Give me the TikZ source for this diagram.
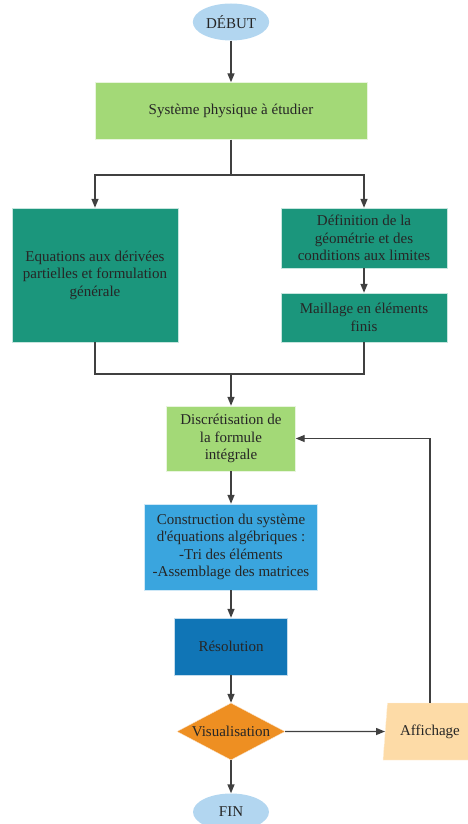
\documentclass[tikz,border=0pt]{standalone}
\usepackage{fontspec}
\setmainfont{Liberation Serif}
\usetikzlibrary{shapes.geometric,arrows.meta}

\begin{document}
\begin{tikzpicture}[x=1pt,y=-1pt,
        every node/.style={font=\fontsize{15}{17.5}\selectfont,text=black!85,align=center,inner sep=2pt},
        boite/.style={rectangle,draw=white!75!#1,fill=#1},
        terme/.style={ellipse,fill=bleuclair,minimum width=76pt,minimum height=37pt},
        fleche/.style={-{Triangle[width=7pt,length=9pt]},line width=1.4pt,draw=black!75},
        ligne/.style={line width=1.4pt,draw=black!75}]
        %couleurs
        \definecolor{bleuclair}{RGB}{178,214,240}
        \definecolor{vertclair}{RGB}{163,217,119}
        \definecolor{sarcelle}{RGB}{27,150,124}
        \definecolor{bleu}{RGB}{58,165,222}
        \definecolor{bleufonce}{RGB}{16,117,182}
        \definecolor{orange}{RGB}{238,143,34}
        \definecolor{peche}{RGB}{253,219,167}

        \useasboundingbox (0,0) rectangle (468,824);

        % Noeuds
        \node[terme] (debut) at (231,22) {DÉBUT};
        \node[boite=vertclair,minimum width=272pt,minimum height=57pt] (sys) at (231,111) {Système physique à étudier};
        \node[boite=sarcelle,minimum width=166pt,minimum height=134pt] (eq) at (95,275) {Equations aux dérivées\\partielles et formulation\\générale};
        \node[boite=sarcelle,minimum width=166pt,minimum height=60pt] (geo) at (364,238) {Définition de la\\géométrie et des\\conditions aux limites};
        \node[boite=sarcelle,minimum width=166pt,minimum height=49pt] (mail) at (364,317.5) {Maillage en éléments\\finis};
        \node[boite=vertclair,minimum width=129pt,minimum height=65pt] (disc) at (231,438.5) {Discrétisation de\\la formule\\intégrale};
        \node[boite=bleu,minimum width=173pt,minimum height=86pt] (cons) at (231,547) {Construction du système\\d\textquotesingle équations algébriques :\\-Tri des éléments\\-Assemblage des matrices};
        \node[boite=bleufonce,minimum width=113pt,minimum height=57pt] (reso) at (231,646.5) {Résolution};
        \node[diamond,aspect=1.9,inner sep=0pt,fill=orange,draw=white!75!orange,minimum width=108pt,minimum height=57pt] (visu) at (231,731.5) {Visualisation};
        \node[terme] (fin) at (231,812) {FIN};
        \node[trapezium,trapezium left angle=76,trapezium right angle=104,trapezium stretches body=true,
            fill=peche,draw=white!60!peche,minimum width=94pt,minimum height=57pt] (aff) at (430,731.5) {Affichage};

        % Points de jonction
        \coordinate (sep) at (231,175);
        \coordinate (jonc) at (231,374);

        % Connecteurs
        \draw[fleche] (debut) -- (sys);
        \draw[ligne] (sys) -- (sep);
        \draw[fleche] (sep) -| (eq.north);
        \draw[fleche] (sep) -| (geo.north);
        \draw[fleche] (geo) -- (mail);
        \draw[ligne] (eq.south) |- (jonc) -| (mail.south);
        \draw[fleche] (jonc) -- (disc);
        \draw[fleche] (disc) -- (cons);
        \draw[fleche] (cons) -- (reso);
        \draw[fleche] (reso) -- (visu);
        \draw[fleche] (visu) -- (fin);
        \draw[fleche] (visu) -- (aff);
        \draw[fleche] (aff.north) |- (disc.east);
    \end{tikzpicture}
\end{document}
